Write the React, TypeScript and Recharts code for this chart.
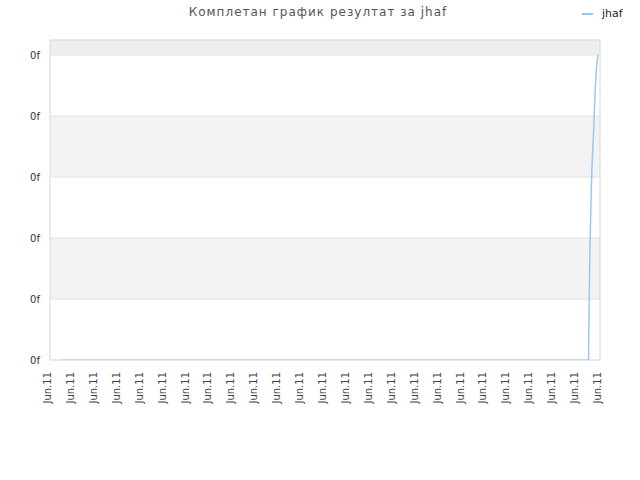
import { LineChart, Line, XAxis, YAxis, ReferenceArea, ReferenceLine } from 'recharts'

const xTickLabels = [
  'Jun.11', 'Jun.11', 'Jun.11', 'Jun.11', 'Jun.11', 'Jun.11', 'Jun.11', 'Jun.11', 'Jun.11',
  'Jun.11', 'Jun.11', 'Jun.11', 'Jun.11', 'Jun.11', 'Jun.11', 'Jun.11', 'Jun.11', 'Jun.11',
  'Jun.11', 'Jun.11', 'Jun.11', 'Jun.11', 'Jun.11', 'Jun.11', 'Jun.11',
]
const xTicks = [0, 1, 2, 3, 4, 5, 6, 7, 8, 9, 10, 11, 12, 13, 14, 15, 16, 17, 18, 19, 20, 21, 22, 23, 24]
const yTicks = [0, 1, 2, 3, 4, 5]
const yTickLabels = ['0f', '0f', '0f', '0f', '0f', '0f']

// results over time: flat at zero, then a steep climb right at the end
const pointX = [0.48, 4, 8, 12, 16, 20, 23.5, 23.52, 23.56, 23.61, 23.65, 23.69, 23.73, 23.76, 23.8, 23.85, 23.91]
const pointY = [0, 0, 0, 0, 0, 0, 0, 0.74, 1.85, 2.62, 3.16, 3.49, 3.82, 4.15, 4.48, 4.82, 5]

const data = pointX.map((x, i) => ({ x, jhaf: pointY[i] }))

const Y_MAX = 5.246
const font = 'DejaVu Sans, Verdana, sans-serif'
const border = '#d6d6d6'

function XTick({ x, y, payload }: any) {
  return (
    <text
      transform={`translate(${x + 1},${y + 12}) rotate(-90)`}
      textAnchor="end"
      fontSize={10}
      fontFamily={font}
      fill="#444"
    >
      {xTickLabels[payload.value]}
    </text>
  )
}

function YTick({ x, y, payload }: any) {
  return (
    <text x={x} y={y} dy="0.355em" textAnchor="end" fontSize={10} fontFamily={font} fill="#333">
      {yTickLabels[payload.value]}
    </text>
  )
}

export default function App() {
  return (
    <div style={{ position: 'absolute', left: 0, top: 0, width: 640, height: 480, background: '#fff' }}>
      <div
        style={{
          position: 'absolute', left: 0, top: 5, width: 636, textAlign: 'center',
          fontFamily: font, fontSize: 12, letterSpacing: 1, color: '#555',
        }}
      >
        Комплетан график резултат за jhaf
      </div>
      <div style={{ position: 'absolute', left: 582, top: 7, display: 'flex', alignItems: 'center', fontFamily: font, fontSize: 11, color: '#222' }}>
        <span style={{ display: 'inline-block', width: 11, height: 2, background: '#9ac7f2', marginRight: 9 }} />
        jhaf
      </div>
      <LineChart width={640} height={480} data={data} margin={{ top: 40, right: 40, bottom: 0, left: 0 }}>
        <ReferenceArea y1={5} y2={Y_MAX} fill="#eeeeee" fillOpacity={1} stroke="none" ifOverflow="hidden" />
        <ReferenceArea y1={3} y2={4} fill="#f3f3f3" fillOpacity={1} stroke="none" />
        <ReferenceArea y1={1} y2={2} fill="#f3f3f3" fillOpacity={1} stroke="none" />
        {[1, 2, 3, 4, 5].map((v) => (
          <ReferenceLine key={v} y={v} stroke="#e2e2e2" />
        ))}
        <ReferenceLine y={Y_MAX} stroke={border} ifOverflow="visible" />
        <ReferenceLine x={24} stroke={border} ifOverflow="visible" />
        <XAxis
          dataKey="x"
          type="number"
          domain={[0, 24]}
          ticks={xTicks}
          interval={0}
          axisLine={{ stroke: border }}
          tickLine={false}
          tickSize={0}
          tickMargin={0}
          height={120}
          tick={<XTick />}
        />
        <YAxis
          type="number"
          domain={[0, Y_MAX]}
          ticks={yTicks}
          allowDataOverflow
          axisLine={{ stroke: border }}
          tickLine={false}
          tickSize={0}
          tickMargin={10}
          width={50}
          tick={<YTick />}
        />
        <Line
          type="linear"
          dataKey="jhaf"
          stroke="#9ac7f2"
          strokeWidth={1.5}
          dot={false}
          isAnimationActive={false}
        />
      </LineChart>
    </div>
  )
}
